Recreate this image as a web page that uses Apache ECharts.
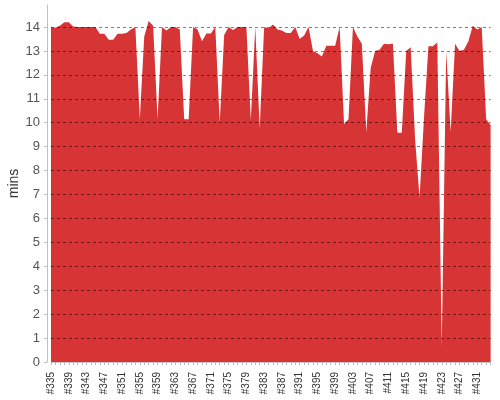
<!DOCTYPE html>
<html>
<head>
<meta charset="utf-8">
<script src="https://cdn.jsdelivr.net/npm/echarts@6/dist/echarts.min.js"></script>
<style>html,body{margin:0;padding:0;background:#fff;}#c{width:500px;height:400px;}</style>
</head>
<body>
<div id="c"></div>
<script>
const categories = [
'#335','#336','#337','#338','#339','#340','#341','#342','#343','#344',
'#345','#346','#347','#348','#349','#350','#351','#352','#353','#354',
'#355','#356','#357','#358','#359','#360','#361','#362','#363','#364',
'#365','#366','#367','#368','#369','#370','#371','#372','#373','#374',
'#375','#376','#377','#378','#379','#380','#381','#382','#383','#384',
'#385','#386','#387','#388','#389','#390','#391','#392','#393','#394',
'#395','#396','#397','#398','#399','#400','#401','#402','#403','#404',
'#405','#406','#407','#408','#409','#410','#411','#412','#413','#414',
'#415','#416','#417','#418','#419','#420','#421','#422','#423','#424',
'#425','#426','#427','#428','#429','#430','#431','#432','#433','#434'
];
const minutes = [
14.0,13.97,14.05,14.2,14.2,14.02,14.0,14.0,14.0,14.0,
14.0,13.72,13.72,13.47,13.47,13.72,13.72,13.75,13.9,14.0,
10.15,13.6,14.25,14.05,10.15,14.0,13.85,14.0,14.0,13.9,
10.15,10.15,14.0,13.9,13.4,13.73,13.73,14.0,10.0,13.67,
14.0,13.87,14.0,14.0,14.0,10.1,14.0,9.75,14.0,13.95,
14.1,13.9,13.85,13.75,13.75,14.0,13.5,13.65,14.0,13.0,
12.9,12.77,13.22,13.22,13.22,14.0,9.95,10.15,14.0,13.6,
13.3,9.6,12.3,13.0,13.05,13.3,13.28,13.3,9.58,9.58,
13.0,13.15,9.3,6.85,10.2,13.2,13.2,13.35,0.64,13.0,
9.6,13.3,13.0,13.05,13.4,14.05,13.9,14.0,10.15,9.9
];
const yTicks = [0,1,2,3,4,5,6,7,8,9,10,11,12,13,14];
const yMax = 14.92;

const chart = echarts.init(document.getElementById('c'), null, {renderer:'canvas'});
chart.setOption({
  animation: false,
  grid: {left: 51, right: 9.4, top: 5, bottom: 38, containLabel: false, outerBoundsMode: 'none'},
  xAxis: {
    type: 'category',
    data: categories,
    boundaryGap: false,
    offset: 4,
    axisLine: {show: true, lineStyle: {color: '#c8c8c8', width: 1}},
    axisTick: {show: true, interval: 0, length: 3, lineStyle: {color: '#bbb'}},
    axisLabel: {interval: 3, rotate: 90, margin: 6, fontSize: 10,
      fontFamily: 'Liberation Sans, Arial, sans-serif', color: '#333'},
    splitLine: {show: false}
  },
  yAxis: {
    type: 'value',
    min: yTicks[0],
    max: yMax,
    interval: 1,
    offset: 4,
    z: 10,
    name: 'mins',
    nameLocation: 'middle',
    nameGap: 26,
    nameMoveOverlap: false,
    nameTextStyle: {fontSize: 14, color: '#333', fontFamily: 'Liberation Sans, Arial, sans-serif'},
    axisLine: {show: true, lineStyle: {color: '#c0c0c0', width: 1}},
    axisTick: {show: true, length: 3, lineStyle: {color: '#bbb'}},
    axisLabel: {margin: 7, fontSize: 13, color: '#555', showMaxLabel: false,
      fontFamily: 'Liberation Sans, Arial, sans-serif',
      formatter: v => (yTicks.indexOf(v) >= 0 ? String(v) : '')},
    splitLine: {show: true, showMinLine: false, showMaxLine: false,
      lineStyle: {color: 'rgba(0,0,0,0.5)', type: [3, 3], width: 1}}
  },
  series: [{
    type: 'line',
    data: minutes,
    showSymbol: false,
    symbol: 'none',
    z: 2,
    lineStyle: {opacity: 0, width: 0},
    areaStyle: {color: '#d63435', opacity: 1}
  }]
});
</script>
</body>
</html>
